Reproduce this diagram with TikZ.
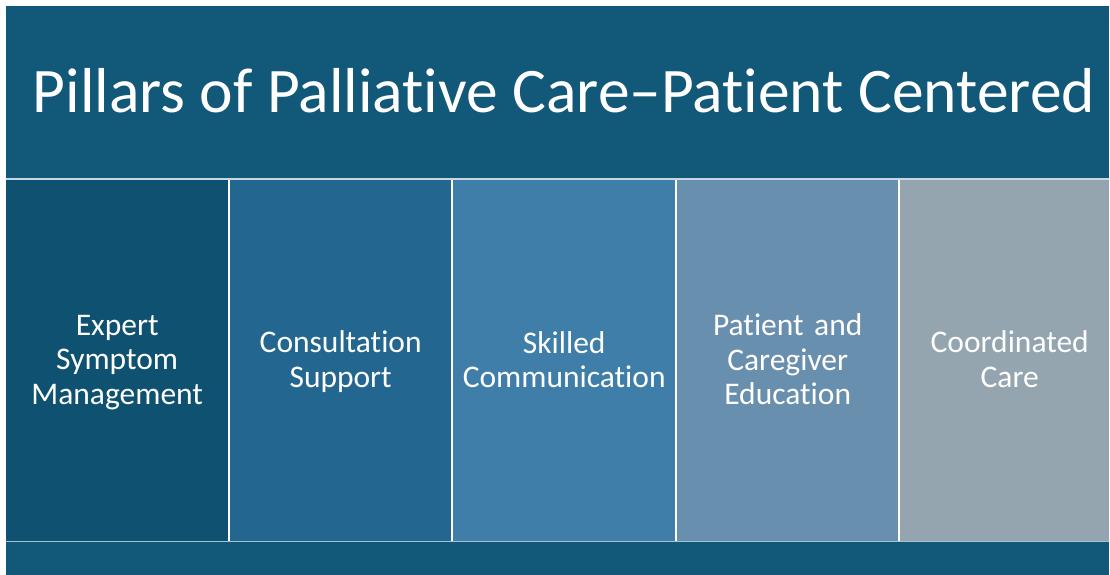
\documentclass[tikz,border=0pt]{standalone}
\usepackage{fontspec}
\setmainfont[Ligatures={NoCommon}]{Carlito}
\definecolor{bandblue}{HTML}{125878}
\definecolor{pillarA}{HTML}{0F5170}
\definecolor{pillarB}{HTML}{23668F}
\definecolor{pillarC}{HTML}{3F7EA8}
\definecolor{pillarD}{HTML}{698FAF}
\definecolor{pillarE}{HTML}{94A5AF}
\definecolor{rule}{HTML}{C8D8E2}
\begin{document}
\begin{tikzpicture}[x=1pt,y=-1pt,
  pillar/.style={draw=none,minimum width=222pt,minimum height=361pt,inner sep=0pt,anchor=north west},
  pillartext/.style={text=white,font=\fontsize{31.5}{34.5}\selectfont,align=center,text width=218pt}]
  \useasboundingbox (0,0) rectangle (1110,575);
  % page background and dark frame
  \fill[white] (0,0) rectangle (1110,575);
  \fill[bandblue] (6,6) rectangle (1109,575);
  % title
  \node[text=white,font=\fontsize{63.5}{68}\selectfont] (title) at (564,91) {Pillars of Palliative Care–Patient Centered};
  % pillars
  \node[pillar,fill=pillarA] (p1) at (6,180) {};
  \node[pillar,fill=pillarB,minimum width=221pt] (p2) at (230,180) {};
  \node[pillar,fill=pillarC,minimum width=222pt] (p3) at (453,180) {};
  \node[pillar,fill=pillarD,minimum width=221pt] (p4) at (677,180) {};
  \node[pillar,fill=pillarE,minimum width=209pt] (p5) at (900,180) {};
  % rules between the bands and pillars
  \draw[rule,line width=1.6pt] (6,179) -- (1109,179);
  \draw[rule!80!pillarB,line width=1.2pt] (6,541.5) -- (1109,541.5);
  \foreach \x in {229,452,676,899} \draw[white,line width=1.6pt] (\x,180) -- (\x,541);
  % pillar labels
  \node[pillartext] (t1) at ([yshift=-1.5pt]p1.center) {Expert\\Symptom\\Management};
  \node[pillartext] (t2) at ([yshift=-1pt]p2.center) {Consultation\\Support};
  \node[pillartext] (t3) at ([yshift=1pt]p3.center) {Skilled\\Communication};
  \node[pillartext] (t4) at ([yshift=1.5pt]p4.center) {Patient and\\Caregiver\\Education};
  \node[pillartext] (t5) at ([xshift=5pt,yshift=1.5pt]p5.center) {Coordinated\\Care};
\end{tikzpicture}
\end{document}
